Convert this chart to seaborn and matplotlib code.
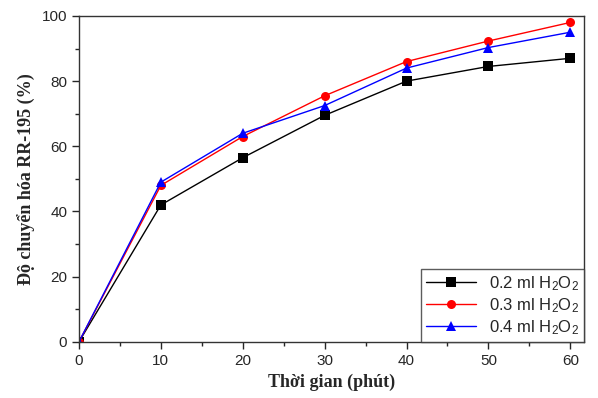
import matplotlib
matplotlib.use('Agg')
import matplotlib.pyplot as plt
import seaborn as sns
import pandas as pd
from matplotlib.ticker import MultipleLocator

time = [0, 10, 20, 30, 40, 50, 60]
h2o2_02 = [0, 42, 56.5, 69.5, 80, 84.5, 87]
h2o2_03 = [0, 48, 63, 75.5, 86, 92.3, 98]
h2o2_04 = [0, 49, 64, 72.5, 84, 90.3, 95]
labels = ['0.2 ml H$_2$O$_2$', '0.3 ml H$_2$O$_2$', '0.4 ml H$_2$O$_2$']

df = pd.DataFrame({'time': time * 3,
                   'value': h2o2_02 + h2o2_03 + h2o2_04,
                   'series': [labels[0]] * 7 + [labels[1]] * 7 + [labels[2]] * 7})

sns.set_style('ticks')
plt.rcParams['font.family'] = ['Liberation Sans', 'DejaVu Sans']
plt.rcParams['mathtext.fontset'] = 'custom'
plt.rcParams['mathtext.rm'] = 'Liberation Sans'
plt.rcParams['mathtext.it'] = 'Liberation Sans'

fig = plt.figure(figsize=(5.98, 3.98), dpi=100)
ax = fig.add_axes([0.132, 0.141, 0.845, 0.819])
g = sns.lineplot(data=df, x='time', y='value', hue='series', style='series',
                 palette=['black', 'red', 'blue'], markers=['s', 'o', '^'],
                 dashes=False, markersize=6.5, linewidth=1.0, markeredgewidth=0,
                 ax=ax)
ax.set_xlim(0, 61.7)
ax.set_ylim(0, 100)
ax.xaxis.set_major_locator(MultipleLocator(10))
ax.xaxis.set_minor_locator(MultipleLocator(5))
ax.yaxis.set_major_locator(MultipleLocator(20))
ax.yaxis.set_minor_locator(MultipleLocator(10))
ax.tick_params(which='major', length=5, width=1, labelsize=11, direction='out')
ax.tick_params(which='minor', length=3, width=1, direction='out')
for s in ax.spines.values():
    s.set_visible(True)
    s.set_linewidth(1)
    s.set_color('#333333')
ax.set_xlabel('Thời gian (phút)', family=['Liberation Serif', 'DejaVu Serif'],
              fontweight='bold', fontsize=13)
ax.set_ylabel('Độ chuyển hóa RR-195 (%)', family=['Liberation Serif', 'DejaVu Serif'],
              fontweight='bold', fontsize=13)
leg = ax.legend(loc='lower right', fontsize=12, frameon=True, fancybox=False,
                edgecolor='#333333', borderaxespad=0, handlelength=3,
                labelspacing=0.2, borderpad=0.3)
leg.get_frame().set_linewidth(1)
plt.savefig('out.png', dpi=100)
